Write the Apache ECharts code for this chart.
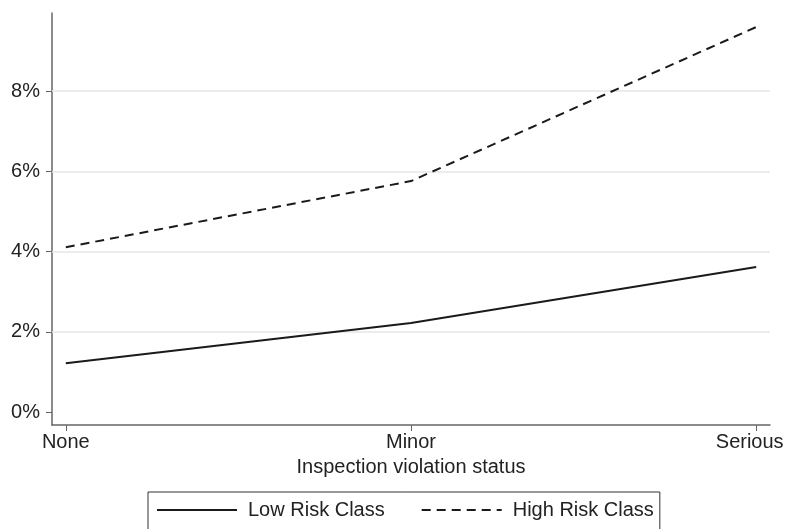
<!DOCTYPE html>
<html>
<head>
<meta charset="utf-8">
<script src="https://cdn.jsdelivr.net/npm/echarts@6/dist/echarts.min.js"></script>
<style>html,body{margin:0;padding:0;background:#fff;}#c{width:787px;height:529px;}</style>
</head>
<body>
<div id="c"></div>
<script>
const categories = ['None', 'Minor', 'Serious'];
const lowRisk = [1.22, 2.22, 3.62];
const highRisk = [4.11, 5.76, 9.60];
const yTicks = [0, 2, 4, 6, 8];
const seriesNames = ['Low Risk Class', 'High Risk Class'];
const xTitle = 'Inspection violation status';

const chart = echarts.init(document.getElementById('c'));
const toXY = arr => arr.map((v, i) => [i, v]);
const font = 'Liberation Sans, Arial, sans-serif';
const lastIdx = categories.length - 1;
chart.setOption({
  animation: false,
  grid: { left: 52, right: 17, top: 13, bottom: 104, containLabel: false, outerBoundsMode: 'none' },
  xAxis: {
    type: 'value', min: -0.04, max: 2.04,
    name: xTitle, nameLocation: 'middle', nameGap: 32,
    nameTextStyle: { color: '#222', fontSize: 20, fontFamily: font },
    axisLine: { show: true, onZero: false, lineStyle: { color: '#666', width: 1.5 } },
    axisTick: { show: true, length: 6, customValues: [0, 1, 2], lineStyle: { color: '#666' } },
    axisLabel: {
      customValues: [0, 1, 2],
      formatter: v => { const i = Math.round(v); return i === lastIdx ? '{e|' + categories[i] + '}' : categories[i]; },
      rich: { e: { color: '#222', fontSize: 20, fontFamily: font, padding: [0, 13, 0, 0] } },
      color: '#222', fontSize: 20, fontFamily: font, margin: 7, hideOverlap: false
    },
    splitLine: { show: false }
  },
  yAxis: {
    type: 'value', min: -0.32, max: 9.95,
    axisLine: { show: true, onZero: false, lineStyle: { color: '#666', width: 1.5 } },
    axisTick: { show: true, length: 6, customValues: yTicks, lineStyle: { color: '#666' } },
    axisLabel: { customValues: yTicks, formatter: v => v + '%', color: '#222', fontSize: 20, fontFamily: font, margin: 12 },
    splitLine: { show: false }
  },
  legend: {
    data: seriesNames, left: 148, top: 492,
    itemWidth: 80, itemHeight: 14, itemGap: 36,
    borderColor: '#333', borderWidth: 1, padding: [8, 6, 16, 8],
    itemStyle: { opacity: 0 },
    textStyle: { color: '#222', fontSize: 20, fontFamily: font, padding: [0, 0, 0, 6] }
  },
  series: [
    { name: seriesNames[0], type: 'line', data: toXY(lowRisk), symbol: 'none',
      lineStyle: { color: '#1a1a1a', width: 2, type: 'solid' }, itemStyle: { color: '#1a1a1a' },
      markLine: { silent: true, symbol: 'none', label: { show: false },
        lineStyle: { color: '#e6e6e6', width: 1.5, type: 'solid' },
        data: yTicks.filter(t => t !== 0).map(t => ({ yAxis: t })), z: 1 } },
    { name: seriesNames[1], type: 'line', data: toXY(highRisk), symbol: 'none',
      lineStyle: { color: '#1a1a1a', width: 2, type: [9, 6] }, itemStyle: { color: '#1a1a1a' } }
  ]
});
</script>
</body>
</html>
